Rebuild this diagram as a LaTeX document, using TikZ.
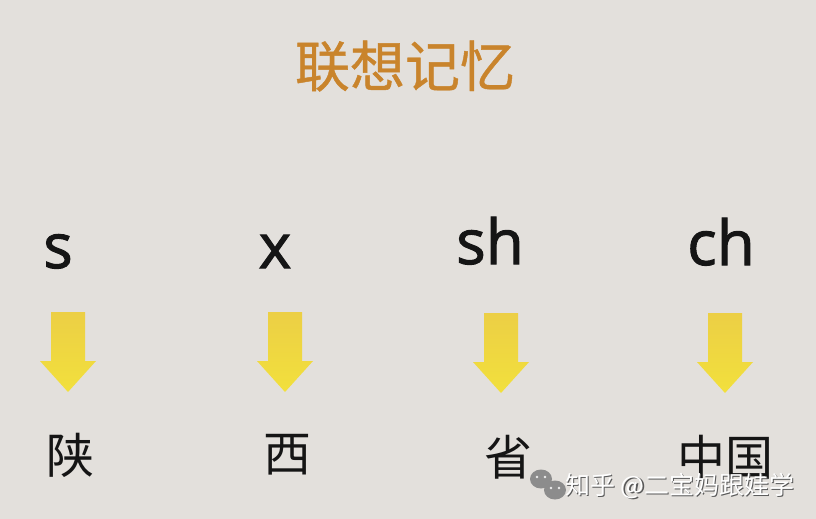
\documentclass[tikz,border=0pt]{standalone}
\usepackage{fontspec}
\setmainfont{Open Sans}
\newfontfamily\cjk{Noto Sans CJK SC}
\newfontfamily\cjktitle{Noto Sans CJK SC}[FakeBold=0.8]
\newfontfamily\latinfont{Open Sans}[FakeBold=1.6]
\definecolor{bgc}{HTML}{E3E0DC}
\definecolor{titlec}{HTML}{C9842C}
\definecolor{arrowtop}{HTML}{ECCF45}
\definecolor{arrowbot}{HTML}{F2E03C}
\definecolor{inkc}{HTML}{151515}
\definecolor{wmgrey}{HTML}{8C8C8C}
\begin{document}
\begin{tikzpicture}[x=1pt,y=-1pt,
  titletext/.style={font=\cjktitle\fontsize{55}{60}\selectfont, text=titlec, inner sep=0pt},
  pinyin/.style={font=\latinfont\fontsize{62}{70}\selectfont, text=inkc, inner sep=0pt, anchor=base},
  hanzi/.style={font=\cjk\fontsize{48}{54}\selectfont, text=inkc, inner sep=0pt},
  wmtext/.style={font=\cjk\fontsize{25}{28}\selectfont, text=white, inner sep=0pt},
  wmshadow/.style={font=\cjk\fontsize{25}{28}\selectfont, text=black!65, inner sep=0pt},
  downarrow/.pic={
    \shade[top color=arrowtop, bottom color=arrowbot]
      (-17,0) -- (17,0) -- (17,49) -- (28,49) -- (0,80) -- (-28,49) -- (-17,49) -- cycle;
  }]
  \fill[bgc] (0,0) rectangle (816,519);
  \useasboundingbox (0,0) rectangle (816,519);

  \node[titletext] (title) at (405,66) {联想记忆};

  \node[pinyin] (s)  at (58,268)  {s};
  \node[pinyin] (x)  at (275,268) {x};
  \node[pinyin] (sh) at (490,264) {sh};
  \node[pinyin] (ch) at (721,265) {ch};

  \pic at (68,312)  {downarrow};
  \pic at (285,312) {downarrow};
  \pic at (501,313) {downarrow};
  \pic at (725,313) {downarrow};

  \node[hanzi] (shaan) at (70,455)  {陕};
  \node[hanzi] (xi)    at (287,455) {西};
  \node[hanzi] (sheng) at (508,457) {省};
  \node[hanzi] (zg)    at (725,457) {中国};

  % watermark
  \fill[wmgrey] (541,479) ellipse (11 and 9.5);
  \fill[wmgrey] (555,490) ellipse (11 and 9.5);
  \fill[white!85!wmgrey] (537,477) circle (1.4) (545,477) circle (1.4);
  \fill[white!85!wmgrey] (551,488) circle (1.4) (559,488) circle (1.4);
  \node[wmshadow, anchor=west] (wms) at (566.5,487.5) {知乎 @二宝妈跟娃学};
  \node[wmtext, anchor=west] (wm) at (565,486) {知乎 @二宝妈跟娃学};
\end{tikzpicture}
\end{document}
